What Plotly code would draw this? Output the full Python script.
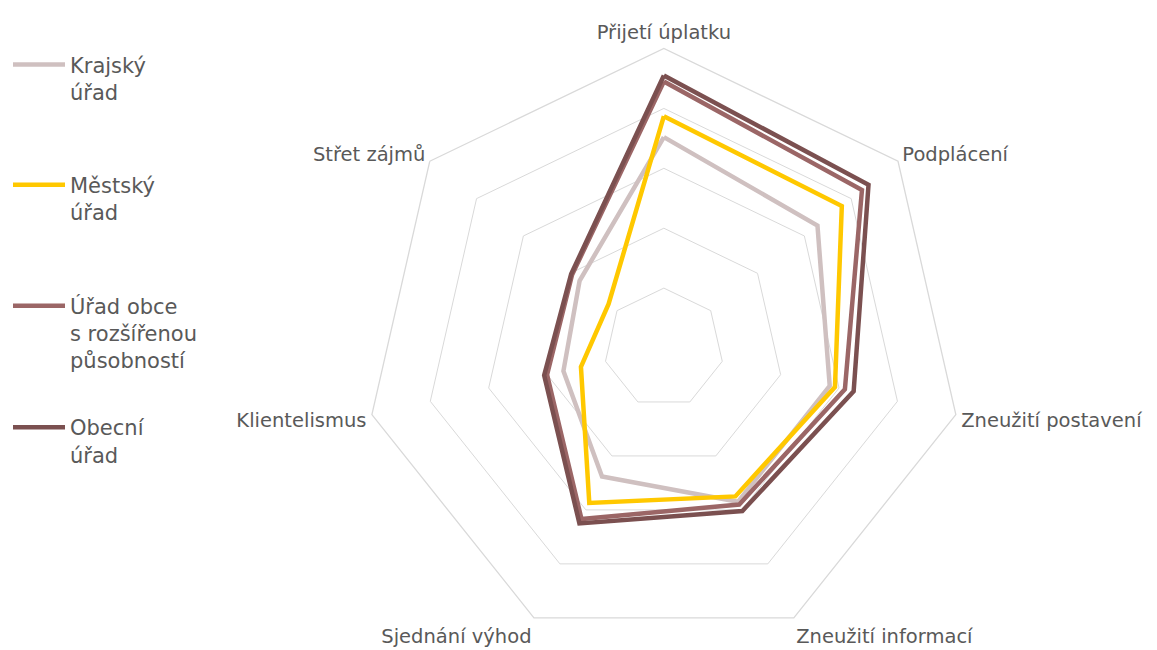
import plotly.graph_objects as go

categories = ["Přijetí úplatku", "Podplácení", "Zneužití postavení", "Zneužití informací",
              "Sjednání výhod", "Klientelismus", "Střet zájmů"]

krajsky = [3.52, 3.28, 2.84, 2.85, 2.38, 1.72, 1.80]
mestsky = [3.87, 3.80, 2.93, 2.75, 2.87, 1.42, 1.18]
orp = [4.45, 4.23, 3.10, 2.90, 3.17, 2.00, 1.96]
obecni = [4.55, 4.37, 3.25, 3.02, 3.25, 2.05, 1.98]

series_names = ["Krajský<br>úřad", "Městský<br>úřad", "Úřad obce<br>s rozšířenou<br>působností", "Obecní<br>úřad"]
series_values = [krajsky, mestsky, orp, obecni]
series_colors = ["#CFC0C0", "#FFC800", "#9B6666", "#7B5050"]
legend_ids = ["legend", "legend2", "legend3", "legend4"]
legend_y = [0.944, 0.759, 0.573, 0.386]

FONT = "DejaVu Sans"
TXT = "#595959"

fig = go.Figure()
for name, vals, col, lid in zip(series_names, series_values, series_colors, legend_ids):
    fig.add_trace(go.Scatterpolar(
        r=vals + vals[:1],
        theta=categories + categories[:1],
        mode="lines",
        name=name,
        legend=lid,
        showlegend=True,
        line=dict(color=col, width=4.5),
    ))

legend_common = dict(x=-0.002, xanchor="left", yanchor="top", valign="top", itemwidth=52,
                     font=dict(family=FONT, size=21, color=TXT), bgcolor="rgba(0,0,0,0)",
                     visible=True)
legends = {}
for lid, ly in zip(legend_ids, legend_y):
    legends[lid] = dict(y=ly, **legend_common)

fig.update_layout(
    width=1157, height=650,
    margin=dict(l=0, r=0, t=0, b=0),
    paper_bgcolor="white",
    showlegend=True,
    font=dict(family=FONT, color=TXT, size=19.5),
    polar=dict(
        domain=dict(x=[355 / 1157, 955 / 1157], y=[10 / 650, 610 / 650]),
        gridshape="linear",
        bgcolor="white",
        radialaxis=dict(range=[0, 5], tickvals=[1, 2, 3, 4, 5], showticklabels=False,
                        showline=False, ticks="", gridcolor="#D9D9D9", gridwidth=1.3),
        angularaxis=dict(direction="clockwise", rotation=90, showgrid=False,
                         showline=True, linecolor="#D9D9D9", linewidth=1.3,
                         ticks="outside", ticklen=1, tickcolor="rgba(0,0,0,0)",
                         tickfont=dict(family=FONT, size=19.5, color=TXT)),
    ),
    **legends,
)

fig.write_html("out.html")
